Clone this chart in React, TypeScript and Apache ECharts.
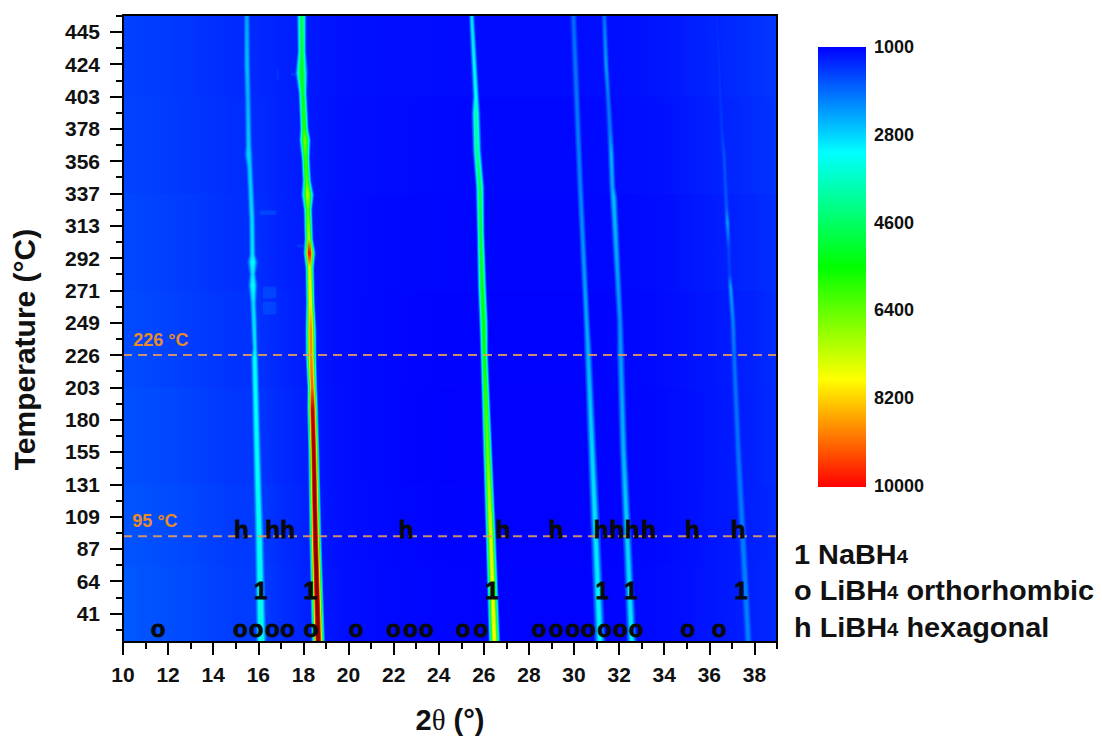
import React, { useEffect, useRef } from "react";
import * as echarts from "echarts";

const FONT = "'Liberation Sans', Arial, sans-serif";
const tempLabels = ["41","64","87","109","131","155","180","203","226","249","271","292","313","337","356","378","403","424","445"];
const rowMin = -0.88;
const rowMax = 18.52;
const xMin = 10;
const xMax = 39;
const xMajor = [10,12,14,16,18,20,22,24,26,28,30,32,34,36,38];
const xMinor = [11,13,15,17,19,21,23,25,27,29,31,33,35,37,39];
const rowMajor = tempLabels.map((_, i) => i);
const rowMinor = [-0.5,0.5,1.5,2.5,3.5,4.5,5.5,6.5,7.5,8.5,9.5,10.5,11.5,12.5,13.5,14.5,15.5,16.5,17.5,18.5];

const colorStops: number[][] = [[1000,0,0,255],[3160,0,255,255],[5500,0,255,0],[7800,255,255,0],[10000,255,0,0],[12000,120,0,0]];
const colorbarLabels = ["1000","2800","4600","6400","8200","10000"];

// background counts: 2theta positions, then one list of counts per temperature band
const bgX = [10,11,12,13,14,15,16,17,18,19,20,22,24,26,28,30,32,34,35,36,37,38,39];
const bgBandEdges = [-0.88,1.5,4,7,10,13,16,18.52];
const bgBands = [
  [1750,1700,1660,1620,1560,1500,1520,1400,1300,1180,1120,1070,1040,1030,1020,1020,1040,1090,1130,1180,1220,1280,1350],
  [1720,1680,1640,1590,1540,1480,1500,1380,1290,1170,1110,1060,1030,1020,1010,1010,1030,1080,1120,1170,1210,1270,1340],
  [1680,1640,1600,1560,1500,1450,1460,1350,1270,1160,1100,1050,1020,1010,1010,1010,1030,1080,1130,1170,1220,1280,1360],
  [1640,1600,1560,1520,1470,1420,1420,1320,1240,1150,1100,1050,1030,1020,1020,1020,1040,1090,1140,1180,1230,1290,1370],
  [1600,1570,1530,1490,1440,1390,1380,1300,1230,1150,1100,1070,1050,1040,1040,1040,1060,1110,1170,1220,1270,1330,1400],
  [1570,1540,1500,1460,1420,1370,1360,1290,1220,1160,1120,1090,1070,1060,1060,1060,1090,1140,1200,1260,1310,1370,1440],
  [1550,1520,1480,1440,1400,1350,1340,1280,1220,1170,1140,1110,1100,1090,1090,1100,1120,1180,1240,1300,1350,1410,1470],
];

// peaks: [row, 2theta, counts, half width in px]
const peakA = [[18.52,15.49,2350,3.2],[17,15.5,2600,3.2],[15.89,15.54,2500,3.2],[14.5,15.57,2700,3.2],[14.2,15.57,2800,4],[13.8,15.62,2700,3.2],[12.2,15.72,2800,3.2],[11.1,15.74,2900,3.2],[10.88,15.75,3200,5],[10.5,15.75,2900,3.2],[10.16,15.76,3200,4.5],[9.6,15.78,2800,3.2],[9.02,15.81,2900,3.2],[8.2,15.85,2900,2.8],[7.9,15.84,3200,3.6],[5,15.94,3200,4],[2.39,16.04,3300,4.5],[-0.88,16.13,3500,5]];
const peakB = [[18.52,17.92,4700,4],[17.4,17.93,5000,3.6],[16.73,17.92,5200,5.2],[16.1,17.97,5200,3.6],[15,18.04,5800,3.6],[14.65,18.07,6500,4.8],[14.1,18.1,6000,3.6],[13.4,18.15,6200,3.6],[12.95,18.19,7000,5.2],[12.5,18.2,6300,3.6],[11.6,18.24,7000,3.6],[11.15,18.27,10000,4.8],[10.7,18.28,7500,3.6],[9.6,18.31,8000,3.6],[8.8,18.33,8800,4.4],[8,18.34,8800,4.4],[7,18.39,9200,4],[6.3,18.41,11000,4.4],[5,18.46,11500,4.4],[2.39,18.53,11800,4.8],[-0.88,18.66,11800,5.2]];
const peakC = [[18.52,25.46,2900,2.4],[16,25.65,3200,2.8],[15.5,25.65,3900,3.6],[14.3,25.7,4200,3.6],[13.2,25.83,4700,3.6],[11.8,25.86,5000,3.2],[10.2,25.92,5300,3.6],[9,25.99,5500,3.6],[8,26.02,5500,3.2],[5,26.17,6500,3.8],[2.39,26.31,7600,4.2],[-0.88,26.47,7800,4.6]];
const peakD = [[18.52,29.97,1900,2.7],[15.9,30.12,2000,2.7],[13.3,30.27,2100,2.7],[9.02,30.56,2400,2.7],[8,30.63,2500,3.2],[5.06,30.8,2800,3.6],[2.39,30.96,2950,4],[-0.88,31.15,3100,4.5]];
const peakE = [[18.52,31.34,1900,2.3],[17,31.42,2300,2.3],[15.9,31.52,2000,2.3],[14.9,31.6,2000,2.7],[14.2,31.65,2500,2.7],[13.2,31.7,2400,2.7],[12.9,31.75,2600,3.2],[9.02,32.04,2200,2.7],[8,32.07,2300,3.2],[5.06,32.19,2500,3.2],[2.39,32.36,2800,3.6],[-0.88,32.56,3000,4]];
const peakF = [[18.52,36.33,1350,2.3],[15,36.55,1450,2.3],[14.2,36.65,1650,2.3],[12.6,36.76,1700,2.3],[12.1,36.8,2300,2.3],[11.3,36.86,1550,2.3],[10.5,36.9,1500,2.3],[10.1,36.94,2300,2.3],[9.02,37.05,2050,2.7],[8,37.1,1950,2.7],[5.06,37.28,1950,3.2],[2.39,37.48,2050,3.6],[-0.88,37.73,2100,3.6]];
const peaks = [peakA, peakB, peakC, peakD, peakE, peakF];

const layerWidths = [1.25,1.05,0.86,0.7,0.54,0.4,0.26];
const layerLevels = [0.1,0.25,0.42,0.6,0.78,0.92,1];

// faint spots: [2theta from, 2theta to, row from, row to, counts]
const spots = [
  [16.2,16.8,9.75,10.12,1800],
  [16.2,16.8,9.25,9.65,1800],
  [16.05,16.8,12.33,12.47,1800],
  [16.82,16.9,16.5,16.85,1600],
  [17.45,17.9,16.63,16.73,1650],
  [17.7,18.1,11.33,11.43,1650],
];

const hX = [15.25,16.63,17.3,22.55,26.85,29.2,31.2,31.9,32.57,33.3,35.25,37.27];
const oneX = [16.1,18.3,26.36,31.25,32.52,37.4];
const oX = [11.56,15.2,15.9,16.62,17.3,18.33,20.33,22.0,22.75,23.45,25.08,25.87,28.45,29.22,29.95,30.63,31.35,32.05,32.75,35.05,36.43];
const hRow = 2.6;
const oneRow = 0.72;
const oRow = -0.46;
const rowLine226 = 8;
const rowLine95 = 2.39;

function counts2rgb(v: number, alpha = 1) {
  const s = colorStops;
  let c = s[s.length - 1];
  if (v <= s[0][0]) c = s[0];
  else {
    for (let i = 1; i < s.length; i++) {
      if (v <= s[i][0]) {
        const t = (v - s[i - 1][0]) / (s[i][0] - s[i - 1][0]);
        c = [v, s[i - 1][1] + t * (s[i][1] - s[i - 1][1]), s[i - 1][2] + t * (s[i][2] - s[i - 1][2]), s[i - 1][3] + t * (s[i][3] - s[i - 1][3])];
        break;
      }
    }
  }
  return `rgba(${Math.round(c[1])},${Math.round(c[2])},${Math.round(c[3])},${alpha})`;
}

function renderBand(params: any, api: any) {
  const i = params.dataIndex;
  const p0 = api.coord([xMin, bgBandEdges[i + 1]]);
  const p1 = api.coord([xMax, bgBandEdges[i]]);
  const stops = bgX.map((x, k) => ({ offset: (x - xMin) / (xMax - xMin), color: counts2rgb(bgBands[i][k]) }));
  return {
    type: "rect",
    silent: true,
    shape: { x: p0[0], y: p0[1] - 0.5, width: p1[0] - p0[0], height: p1[1] - p0[1] + 1 },
    style: { fill: new echarts.graphic.LinearGradient(0, 0, 1, 0, stops) },
  };
}

function renderSpot(params: any, api: any) {
  const s = spots[params.dataIndex];
  const p0 = api.coord([s[0], s[3]]);
  const p1 = api.coord([s[1], s[2]]);
  return {
    type: "rect",
    silent: true,
    shape: { x: p0[0], y: p0[1], width: p1[0] - p0[0], height: p1[1] - p0[1], r: 2 },
    style: { fill: counts2rgb(s[4], 0.5) },
  };
}

function renderPeak(params: any, api: any) {
  const nodes = peaks[params.dataIndex];
  const pts = nodes.map((n) => api.coord([n[1], n[0]]));
  const top = pts[0][1];
  const h = pts[pts.length - 1][1] - top;
  const children = layerWidths.map((wf, l) => {
    const left = pts.map((p, k) => [p[0] - nodes[k][3] * wf, p[1]]);
    const right = pts.map((p, k) => [p[0] + nodes[k][3] * wf, p[1]]).reverse();
    const stops = nodes.map((n, k) => ({
      offset: (pts[k][1] - top) / h,
      color: counts2rgb(1250 + (n[2] - 1250) * layerLevels[l]),
    }));
    return {
      type: "polygon",
      silent: true,
      shape: { points: left.concat(right) },
      style: { fill: new echarts.graphic.LinearGradient(0, 0, 0, 1, stops) },
    };
  });
  return { type: "group", children };
}

function legendRich(prefix: string, suffix: string) {
  return {
    text: `{b|${prefix}}{s|4}{b|${suffix}}`,
    rich: {
      b: { fontFamily: FONT, fontWeight: "bold", fontSize: 27, fill: "#111", verticalAlign: "bottom", lineHeight: 32, height: 32 },
      s: { fontFamily: FONT, fontWeight: "bold", fontSize: 19, fill: "#111", verticalAlign: "bottom", lineHeight: 29, height: 29 },
    },
  };
}

export default function App() {
  const ref = useRef<HTMLDivElement>(null);
  useEffect(() => {
    const chart = echarts.init(ref.current!, undefined, { renderer: "svg" });
    const lblStyle = { fontFamily: FONT, fontWeight: "bold" as const, fontSize: 21, color: "#111" };
    const annotation = (values: number[], row: number, text: string) => ({
      type: "scatter",
      symbolSize: 1,
      itemStyle: { color: "transparent" },
      silent: true,
      z: 6,
      data: values.map((x) => [x, row]),
      label: { show: true, position: "inside", formatter: text, fontFamily: FONT, fontWeight: "bold", fontSize: 24, color: "#0a0a0a", textBorderColor: "#0a0a0a", textBorderWidth: 0.8, opacity: 1 },
    });
    const dashed = (row: number) => ({
      type: "line",
      symbol: "none",
      silent: true,
      z: 5,
      data: [[xMin, row], [xMax, row]],
      lineStyle: { color: "rgba(226,155,95,0.9)", width: 2, type: [9, 6] },
    });
    const tempNote = (row: number, text: string, x: number) => ({
      type: "scatter",
      symbolSize: 1,
      itemStyle: { color: "transparent" },
      silent: true,
      z: 6,
      data: [[x, row]],
      label: { show: true, position: "right", distance: 3, formatter: text, fontFamily: FONT, fontWeight: "bold", fontSize: 18, color: "#E88B2A", opacity: 1 },
    });
    const barStops = colorStops.slice(0, 5).map((s) => ({ offset: (s[0] - 1000) / 9000, color: counts2rgb(s[0]) }));
    chart.setOption({
      animation: false,
      grid: { left: 123, top: 15, width: 654, height: 627, outerBoundsMode: "none", containLabel: false },
      xAxis: [
        {
          type: "value", min: xMin, max: xMax, position: "bottom", z: 10,
          name: "{n|2}{t|θ}{n| (°)}", nameLocation: "middle", nameGap: 63,
          nameTextStyle: { rich: {
            n: { fontFamily: FONT, fontWeight: "bold", fontSize: 29, color: "#111" },
            t: { fontFamily: "'Liberation Serif', serif", fontWeight: "normal", fontSize: 29, color: "#111" },
          } },
          axisLine: { show: true, onZero: false, lineStyle: { color: "#000", width: 2 } },
          axisTick: { show: true, length: 13, customValues: xMajor, lineStyle: { color: "#000", width: 2 } },
          axisLabel: { show: true, customValues: xMajor, margin: 22, ...lblStyle },
          splitLine: { show: false },
        },
        {
          type: "value", min: xMin, max: xMax, position: "bottom", z: 10,
          axisLine: { show: false, onZero: false },
          axisTick: { show: true, length: 7, customValues: xMinor, lineStyle: { color: "#000", width: 2 } },
          axisLabel: { show: false },
          splitLine: { show: false },
        },
        {
          type: "value", min: xMin, max: xMax, position: "top", z: 10,
          axisLine: { show: true, onZero: false, lineStyle: { color: "#000", width: 2 } },
          axisTick: { show: false }, axisLabel: { show: false }, splitLine: { show: false },
        },
      ],
      yAxis: [
        {
          type: "value", min: rowMin, max: rowMax, position: "left", z: 10,
          name: "Temperature (°C)", nameLocation: "middle", nameGap: 84, nameRotate: 90,
          nameTextStyle: { fontFamily: FONT, fontWeight: "bold", fontSize: 30, color: "#111", padding: [0, 42, 0, 0] },
          axisLine: { show: true, onZero: false, lineStyle: { color: "#000", width: 2 } },
          axisTick: { show: true, length: 13, customValues: rowMajor, lineStyle: { color: "#000", width: 2 } },
          axisLabel: { show: true, customValues: rowMajor, margin: 23, formatter: (v: number) => tempLabels[Math.round(v)] ?? "", ...lblStyle },
          splitLine: { show: false },
        },
        {
          type: "value", min: rowMin, max: rowMax, position: "left", z: 10,
          axisLine: { show: false, onZero: false },
          axisTick: { show: true, length: 7, customValues: rowMinor, lineStyle: { color: "#000", width: 2 } },
          axisLabel: { show: false },
          splitLine: { show: false },
        },
        {
          type: "value", min: rowMin, max: rowMax, position: "right", z: 10,
          axisLine: { show: true, onZero: false, lineStyle: { color: "#000", width: 2 } },
          axisTick: { show: false }, axisLabel: { show: false }, splitLine: { show: false },
        },
      ],
      series: [
        { type: "custom", z: 1, silent: true, clip: true, renderItem: renderBand, data: bgBands.map((_, i) => [xMin, bgBandEdges[i]]) },
        { type: "custom", z: 2, silent: true, clip: true, renderItem: renderSpot, data: spots.map((s) => [s[0], s[2]]) },
        { type: "custom", z: 3, silent: true, clip: true, renderItem: renderPeak, data: peaks.map((p) => [p[0][1], p[0][0]]) },
        dashed(rowLine226),
        dashed(rowLine95),
        tempNote(8.46, "226 °C", 10.3),
        tempNote(2.86, "95 °C", 10.26),
        annotation(hX, hRow, "h"),
        annotation(oneX, oneRow, "1"),
        annotation(oX, oRow, "o"),
      ],
      graphic: [
        {
          type: "rect", silent: true, shape: { x: 818, y: 47, width: 48, height: 440 },
          style: { fill: new echarts.graphic.LinearGradient(0, 0, 0, 1, barStops) },
        },
        ...colorbarLabels.map((t, i) => ({
          type: "text", silent: true, x: 874, y: 47 + (i * 439) / 5,
          style: { text: t, fontFamily: FONT, fontWeight: "bold", fontSize: 18, fill: "#111", verticalAlign: "middle" },
        })),
        { type: "text", silent: true, x: 794, y: 555, scaleX: 1.07, style: { ...legendRich("1 NaBH", ""), verticalAlign: "middle" } },
        { type: "text", silent: true, x: 794, y: 591, scaleX: 1.07, style: { ...legendRich("o LiBH", " orthorhombic"), verticalAlign: "middle" } },
        { type: "text", silent: true, x: 794, y: 628, scaleX: 1.07, style: { ...legendRich("h LiBH", " hexagonal"), verticalAlign: "middle" } },
      ],
    });
    return () => chart.dispose();
  }, []);
  return <div ref={ref} style={{ position: "absolute", left: 0, top: 0, width: 1102, height: 737, background: "#fff" }} />;
}
